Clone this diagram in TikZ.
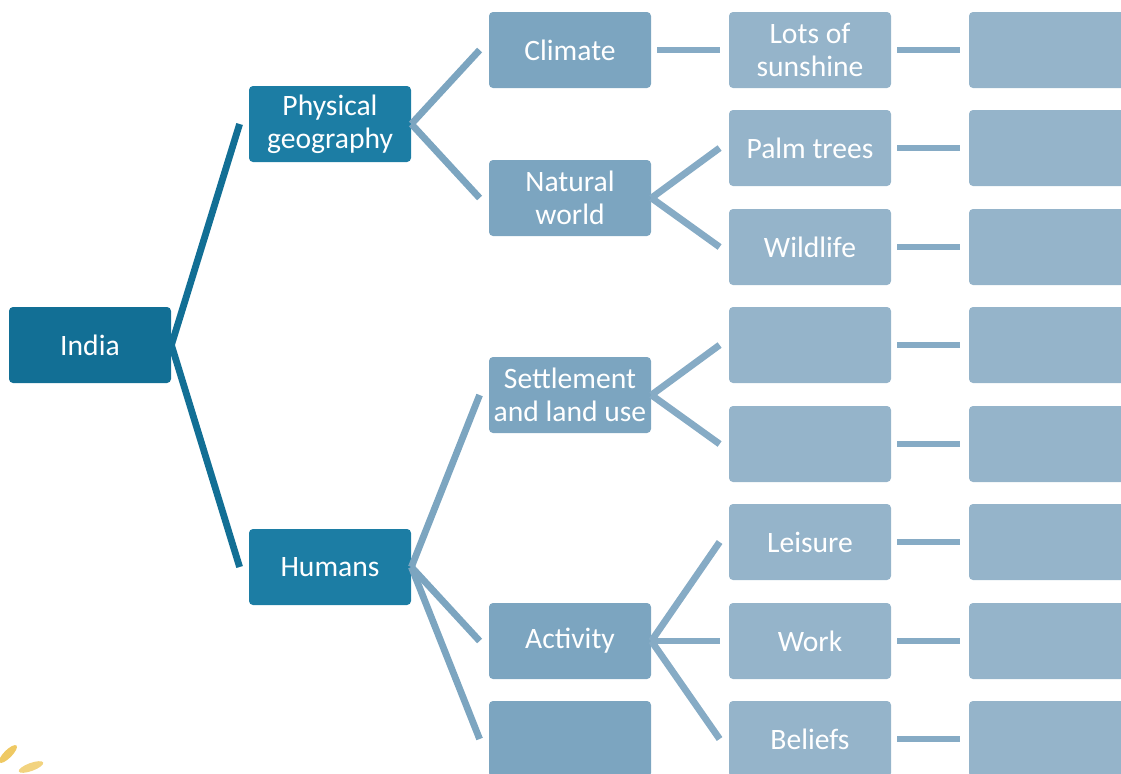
\documentclass[tikz,border=0pt]{standalone}
\usepackage{fontspec}
\setmainfont{Carlito}
\usetikzlibrary{positioning}

\definecolor{rootblue}{RGB}{18,111,149}
\definecolor{topicblue}{RGB}{28,125,164}
\definecolor{subblue}{RGB}{124,165,192}
\definecolor{leafblue}{RGB}{149,180,202}
\definecolor{linkblue}{RGB}{134,171,197}
\definecolor{straw}{RGB}{236,192,72}

\begin{document}
\begin{tikzpicture}[x=0.5pt,y=-0.5pt]
    \tikzset{box/.style={rounded corners=2pt, minimum width=81pt, minimum height=38pt,
        inner sep=0pt, text=white, align=center, font=\fontsize{14.8}{16.5}\selectfont}}
    \tikzset{rootbox/.style={box, fill=rootblue},
        topicbox/.style={box, fill=topicblue},
        subbox/.style={box, fill=subblue},
        leafbox/.style={box, fill=leafblue}}
    \tikzset{link/.style={line width=3.4pt},
        straight/.style={link, draw=linkblue, shorten <=3pt, shorten >=4.5pt}}
    \clip (0,0) rectangle (1121,773);
    % root and the two topics
    \node[rootbox] (india) at (90,345) {India};
    \node[topicbox] (phys) at (330,124) {Physical\\geography};
    \node[topicbox] (hum) at (330,567) {Humans};
    % second column
    \node[subbox] (clim) at (570,50) {Climate};
    \node[subbox] (nat) at (570,198) {Natural\\world};
    \node[subbox] (sett) at (570,395) {Settlement\\and land use};
    \node[subbox] (act) at (570,641) {Activity};
    \node[subbox] (blank) at (570,739) {};
    % third column
    \node[leafbox] (sun) at (810,50) {Lots of\\sunshine};
    \node[leafbox] (palm) at (810,148) {Palm trees};
    \node[leafbox] (wild) at (810,247) {Wildlife};
    \node[leafbox] (ea) at (810,345) {};
    \node[leafbox] (eb) at (810,444) {};
    \node[leafbox] (leis) at (810,542) {Leisure};
    \node[leafbox] (work) at (810,641) {Work};
    \node[leafbox] (bel) at (810,739) {Beliefs};
    % forks
    \foreach \t in {phys, hum}
        \draw[link, draw=rootblue] (india.east) -- ([xshift=-4.5pt]\t.west);
    \foreach \t in {clim, nat}
        \draw[link, draw=subblue] (phys.east) -- ([xshift=-4.5pt]\t.west);
    \foreach \t in {sett, act, blank}
        \draw[link, draw=subblue] (hum.east) -- ([xshift=-4.5pt]\t.west);
    \foreach \t in {palm, wild}
        \draw[link, draw=linkblue] (nat.east) -- ([xshift=-4.5pt]\t.west);
    \foreach \t in {ea, eb}
        \draw[link, draw=linkblue] (sett.east) -- ([xshift=-4.5pt]\t.west);
    \foreach \t in {leis, work, bel}
        \draw[link, draw=linkblue] (act.east) -- ([xshift=-4.5pt]\t.west);
    \draw[straight] (clim) -- (sun);
    % last column, still empty
    \foreach \n/\y in {sun/50, palm/148, wild/247, ea/345, eb/444, leis/542, work/641, bel/739}{
        \node[leafbox] (\n-r) at (1050,\y) {};
        \draw[straight] (\n) -- (\n-r);
    }
    % bit of straw in the corner
    \fill[straw, opacity=0.85] (8,754) ellipse [x radius=6pt, y radius=2pt, rotate=45];
    \fill[straw, opacity=0.7] (31,767) ellipse [x radius=6.5pt, y radius=2pt, rotate=20];
\end{tikzpicture}
\end{document}
